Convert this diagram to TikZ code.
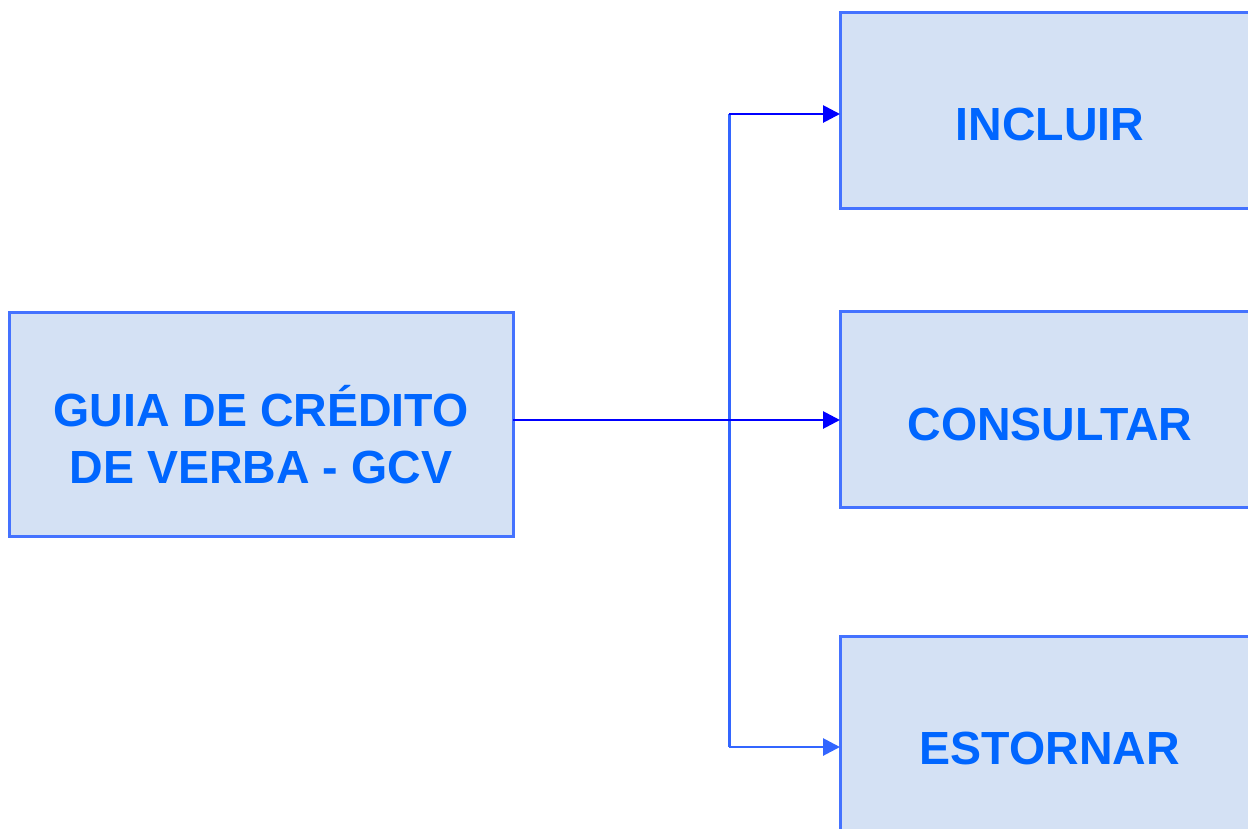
\documentclass[tikz,border=0pt]{standalone}
\usepackage{fontspec}
\setmainfont{Liberation Sans}
\usetikzlibrary{arrows.meta}
\definecolor{boxfill}{HTML}{D4E1F4}
\definecolor{boxline}{HTML}{4472FF}
\definecolor{txtblue}{HTML}{0066FF}
\definecolor{darkblue}{HTML}{0000FF}
\definecolor{lightblue}{HTML}{3366FF}
\begin{document}
\begin{tikzpicture}[x=1pt,y=-1pt,
  box/.style={draw=boxline, fill=boxfill, line width=3pt, inner sep=0pt, outer sep=0pt},
  lbl/.style={text=txtblue, font=\fontsize{46.5}{57}\selectfont\bfseries, align=center, inner sep=0pt},
  con/.style={line width=2.8pt, -{Triangle[length=17pt,width=17pt]}}]
\useasboundingbox (0,0) rectangle (1248,828);
\clip (0,0) rectangle (1248,828);
% boxes
\node[box, minimum width=504pt, minimum height=224pt] (gcv) at (261,424) {};
\node[box, minimum width=420pt, minimum height=196pt] (incl) at (1050,110) {};
\node[box, minimum width=420pt, minimum height=196pt] (cons) at (1050,409) {};
\node[box, minimum width=420pt, minimum height=196pt] (estr) at (1050,734) {};
% labels
\node[lbl, anchor=base] (tincl) at (1050,140) {INCLUIR};
\node[lbl, anchor=base] (tcons) at (1050,440) {CONSULTAR};
\node[lbl, anchor=base] (testr) at (1050,764) {ESTORNAR};
\node[lbl] (tgcv) at (261,435) {GUIA DE CRÉDITO\\DE VERBA - GCV};
% connectors
\coordinate (jm) at (729,420);
\coordinate (jt) at (729,114);
\coordinate (jb) at (729,747);
\draw[lightblue, line width=3pt] (jt) -- (jb);
\draw[con, darkblue] (gcv.east |- jm) -- (cons.west |- jm);
\draw[con, darkblue] (jt) -- (incl.west |- jt);
\draw[con, lightblue] (jb) -- (estr.west |- jb);
\end{tikzpicture}
\end{document}
